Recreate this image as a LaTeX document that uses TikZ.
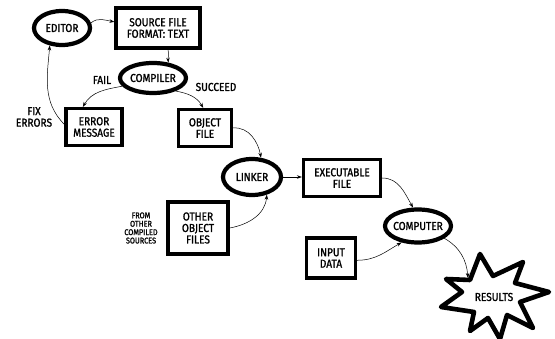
\documentclass[tikz,border=0pt]{standalone}
\usepackage{fontspec}
\setmainfont{Fira Sans}[FakeStretch=0.88, FakeBold=1.3]
\usetikzlibrary{shapes.geometric,arrows.meta}
\begin{document}
\begin{tikzpicture}[x=1pt,y=-1pt,
  every node/.style={font=\fontsize{11.5}{11.5}\selectfont, align=center, inner sep=0pt},
  proc/.style={ellipse, draw, line width=4.2pt, inner xsep=-12pt},
  doc/.style={rectangle, draw, line width=3.2pt},
  tiny/.style={font=\fontsize{8.3}{8.4}\selectfont},
  flow/.style={-{Stealth[length=5pt,width=3.5pt]}, line width=0.5pt},
]
\useasboundingbox (0,0) rectangle (555,339);

% programs (ellipses) and files (boxes)
\node[proc, minimum width=56pt, minimum height=34pt] (editor) at (62,28) {EDITOR};
\node[doc, minimum width=84pt, minimum height=40pt] (src) at (158,28) {SOURCE FILE\\FORMAT: TEXT};
\node[proc, minimum width=66pt, minimum height=30pt] (comp) at (153,78) {COMPILER};
\node[doc, minimum width=56pt, minimum height=37pt] (err) at (94,127) {ERROR\\MESSAGE};
\node[doc, minimum width=53pt, minimum height=37pt] (obj) at (205,128) {OBJECT\\FILE};
\node[proc, minimum width=58pt, minimum height=36pt] (link) at (252,177) {LINKER};
\node[doc, minimum width=60pt, minimum height=52pt] (other) at (198,228) {OTHER\\OBJECT\\FILES};
\node[doc, minimum width=77pt, minimum height=37pt] (exe) at (342,178) {EXECUTABLE\\FILE};
\node[proc, minimum width=66pt, minimum height=33pt] (cpu) at (418,226) {COMPUTER};
\node[doc, minimum width=49pt, minimum height=40pt] (input) at (331,258) {INPUT\\DATA};

% results burst
\draw[line width=4.6pt, line join=round]
  (480,254) -- (493,276) -- (523,262) -- (515,283) -- (549,292) -- (520,302)
  -- (533,328) -- (507,315) -- (500,339) -- (488,318) -- (470,331) -- (474,312)
  -- (441,307) -- (462,292) -- (446,279) -- (470,280) -- cycle;
\node (res) at (494,297) {RESULTS};
\coordinate (resin) at (468,278);

% labels
\node (fail) at (102,80) {FAIL};
\node (succ) at (216,87) {SUCCEED};
\node (fix) at (34,117) {FIX\\ERRORS};
\node[tiny] (from) at (141,228) {FROM\\OTHER\\COMPILED\\SOURCES};

% connectors
\draw[flow] (editor.10) to[out=40,in=170] (src.172);
\draw[flow] (src.-65) to[out=-80,in=95] (comp.45);
\draw[flow] (comp.195) to[out=190,in=60] (err.119);
\draw[flow] (comp.-30) to[out=-10,in=120] (obj.95);
\draw[flow] (err.175) to[out=135,in=-95] (editor.235);
\draw[flow] (obj.east) to[out=5,in=100] (link.65);
\draw[flow] (link.east) -- (link.east -| exe.west);
\draw[flow] (other.east) to[out=10,in=-95] (link.-50);
\draw[flow] (exe.east) to[out=0,in=120] (cpu.105);
\draw[flow] (input.-5) to[out=0,in=210] (cpu.225);
\draw[flow] (cpu.-25) to[out=-30,in=95] (resin);
\end{tikzpicture}
\end{document}
